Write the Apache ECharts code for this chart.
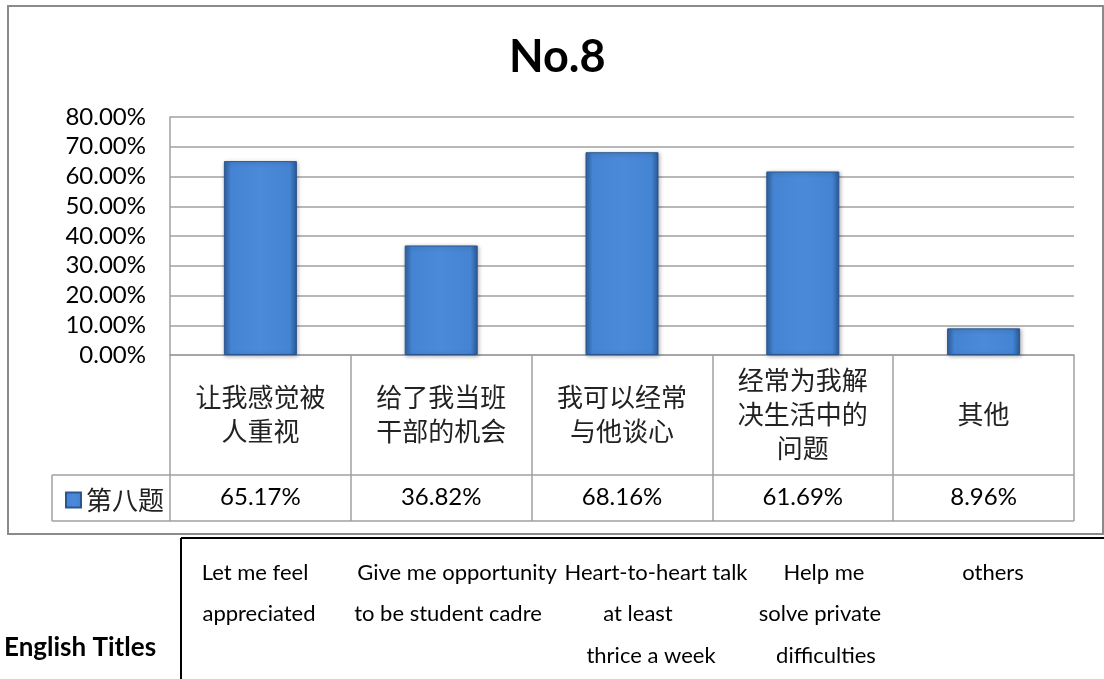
<!DOCTYPE html>
<html><head><meta charset="utf-8">
<script src="https://cdn.jsdelivr.net/npm/echarts@6/dist/echarts.min.js"></script>
<style>html,body{margin:0;padding:0;background:#fff}#c{width:1104px;height:679px}</style>
</head><body><div id="c"></div>
<script>
// ---- data ----
const categories = ['让我感觉被\n人重视', '给了我当班\n干部的机会', '我可以经常\n与他谈心', '经常为我解\n决生活中的\n问题', '其他'];
const values = [0.6517, 0.3682, 0.6816, 0.6169, 0.0896];
const seriesName = '第八题';
const titleText = 'No.8';
const englishHeader = 'English Titles';
const englishTitles = [
  ['Let me feel', 'appreciated'],
  ['Give me opportunity', 'to be student cadre'],
  ['Heart-to-heart talk', 'at least', 'thrice a week'],
  ['Help me', 'solve private', 'difficulties'],
  ['others']
];

// ---- layout (not data) ----
const engCenters = [[255, 259], [457, 448], [656, 638, 651], [824, 820, 826], [993]];
const engRowsY = [573, 614, 656];

const pct = v => (v * 100).toFixed(2) + '%';
const GRID_L = 170, GRID_T = 117, GRID_R = 1074, GRID_B = 355;
const lineCol = '#a0a0a0';

const barColor = {
  type: 'linear', x: 0, y: 0, x2: 1, y2: 0,
  colorStops: [
    { offset: 0, color: '#30629f' },
    { offset: 0.1, color: '#4584d2' },
    { offset: 0.5, color: '#4a8ad8' },
    { offset: 0.9, color: '#4584d2' },
    { offset: 1, color: '#2a5a98' }
  ]
};

const graphics = [];
// outer chart border
graphics.push({ type: 'rect', shape: { x: 8, y: 6, width: 1095, height: 528 }, style: { fill: 'none', stroke: '#8a8a8a', lineWidth: 2 }, z: 0 });
// data table lines
graphics.push({ type: 'line', shape: { x1: 52, y1: 475, x2: GRID_R, y2: 475 }, style: { stroke: lineCol, lineWidth: 1.5 } });
graphics.push({ type: 'line', shape: { x1: 52, y1: 521, x2: GRID_R, y2: 521 }, style: { stroke: lineCol, lineWidth: 1.5 } });
graphics.push({ type: 'line', shape: { x1: 52, y1: 475, x2: 52, y2: 521 }, style: { stroke: lineCol, lineWidth: 1.5 } });
// english section lines
graphics.push({ type: 'line', shape: { x1: 181, y1: 538, x2: 1104, y2: 538 }, style: { stroke: '#000', lineWidth: 2 } });
graphics.push({ type: 'line', shape: { x1: 181, y1: 538, x2: 181, y2: 679 }, style: { stroke: '#000', lineWidth: 2 } });
graphics.push({ type: 'text', x: 4, y: 648, style: { text: englishHeader, font: 'bold 26px Lato', fill: '#000', textAlign: 'left', textVerticalAlign: 'middle' } });
englishTitles.forEach((lines, i) => {
  lines.forEach((t, j) => {
    graphics.push({ type: 'text', x: engCenters[i][j], y: engRowsY[j], style: { text: t, font: '22px Lato', fill: '#000', textAlign: 'center', textVerticalAlign: 'middle' } });
  });
});

const chart = echarts.init(document.getElementById('c'));
chart.setOption({
  backgroundColor: '#fff',
  animation: false,
  title: { text: titleText, left: 504, top: 30, textStyle: { fontFamily: 'Lato', fontWeight: 'bold', fontSize: 45, color: '#000' } },
  legend: {
    data: [seriesName], left: 60, top: 482, itemWidth: 15, itemHeight: 15, itemGap: 6,
    icon: 'rect',
    textStyle: { fontFamily: 'Noto Sans CJK SC', fontSize: 26, color: '#222' }
  },
  grid: { left: GRID_L, top: GRID_T, right: 1104 - GRID_R, bottom: 679 - GRID_B, containLabel: false },
  xAxis: [
    {
      type: 'category', data: categories, position: 'bottom',
      axisLine: { show: true, lineStyle: { color: lineCol, width: 1.5 } },
      axisTick: { show: true, length: 166, interval: 0, alignWithLabel: false, lineStyle: { color: lineCol, width: 1.5 } },
      axisLabel: { interval: 0, margin: 59, verticalAlign: 'middle', lineHeight: 34, fontFamily: 'Noto Sans CJK SC', fontSize: 26, color: '#222' }
    },
    {
      type: 'category', data: values.map(pct), position: 'bottom',
      axisLine: { show: false }, axisTick: { show: false },
      axisLabel: { interval: 0, margin: 142, verticalAlign: 'middle', fontFamily: 'Lato', fontSize: 24, color: '#000' }
    }
  ],
  yAxis: {
    type: 'value', min: 0, max: 0.8, interval: 0.1,
    axisLine: { show: true, lineStyle: { color: lineCol, width: 1.5 } },
    axisTick: { show: false },
    splitLine: { show: true, lineStyle: { color: lineCol, width: 1.5 } },
    axisLabel: { formatter: pct, margin: 24, fontFamily: 'Lato', fontSize: 24, color: '#000' }
  },
  series: [{
    name: seriesName, type: 'bar', data: values, barWidth: 73, xAxisIndex: 0,
    itemStyle: { color: barColor, borderColor: '#2a568f', borderWidth: 1, shadowColor: 'rgba(0,0,0,0.3)', shadowBlur: 4, shadowOffsetX: 1, shadowOffsetY: 1 }
  }],
  graphic: graphics
});
</script>
</body></html>
